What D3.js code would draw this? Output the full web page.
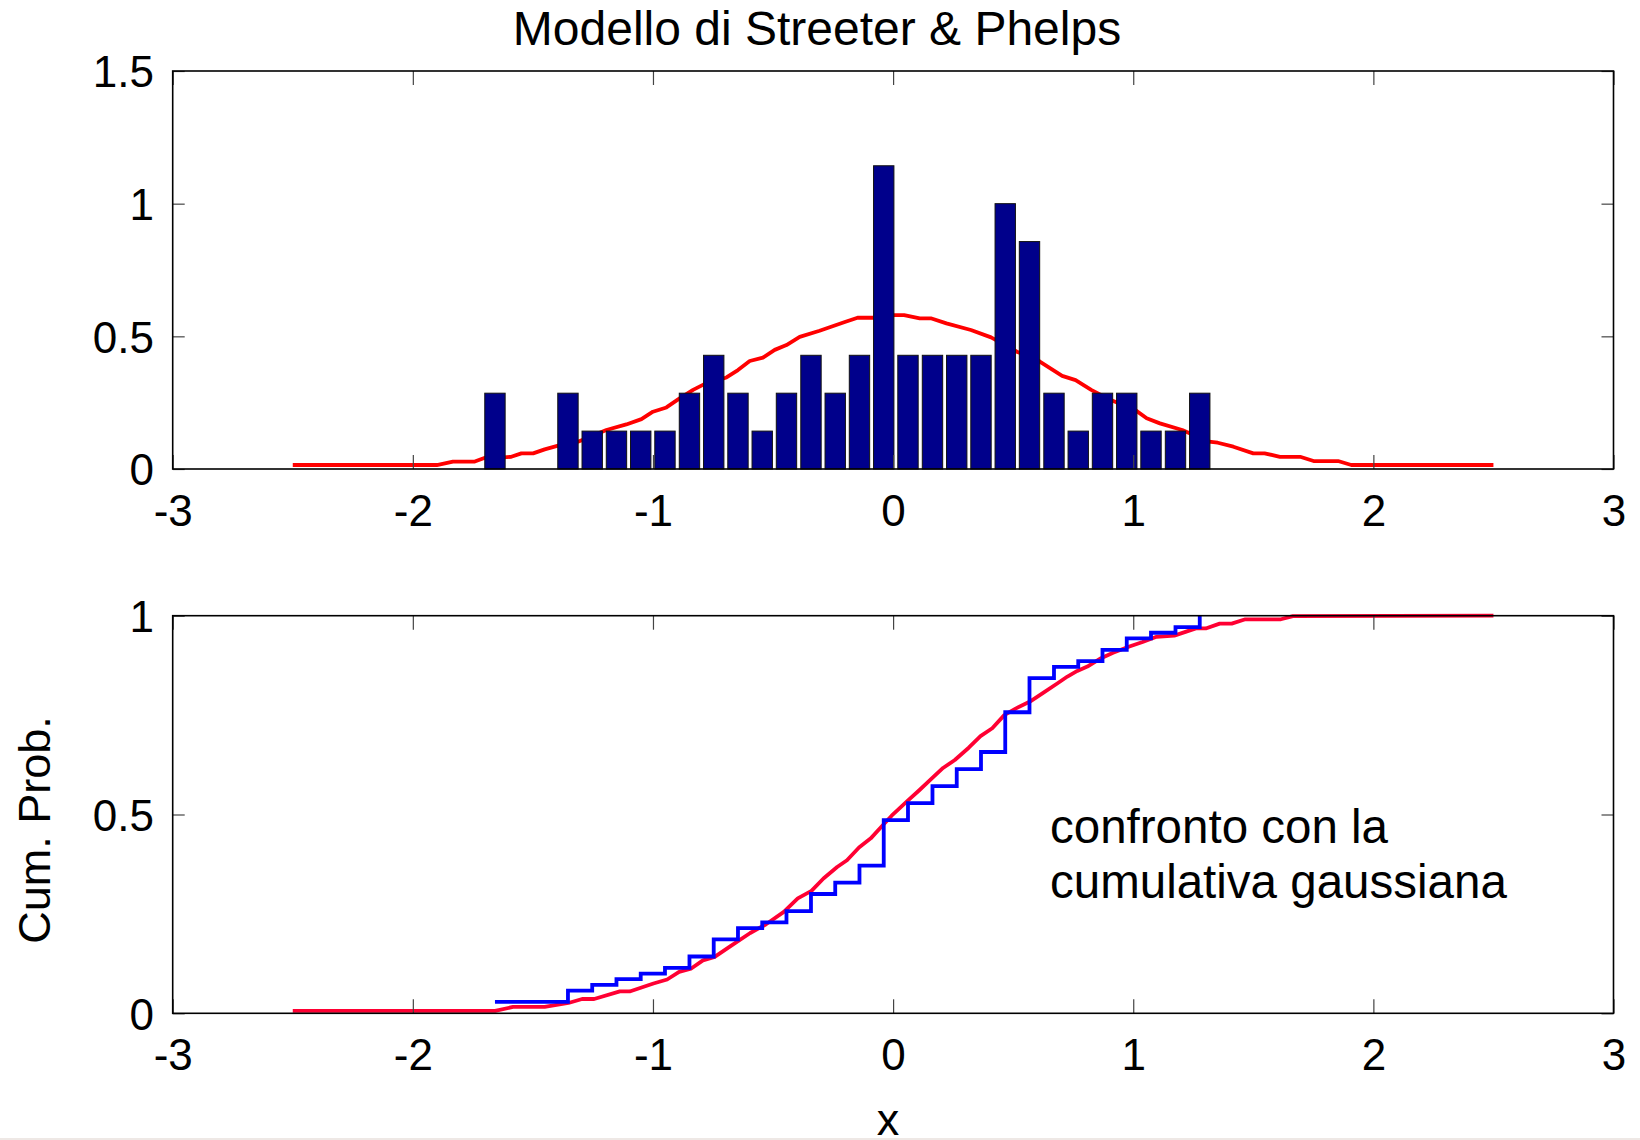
<!DOCTYPE html>
<html>
<head>
<meta charset="utf-8">
<script src="https://cdn.jsdelivr.net/npm/d3@7"></script>
<style>
  html, body { margin: 0; padding: 0; background: #fff; }
  svg { display: block; }
  text { font-family: "Liberation Sans", Arial, Helvetica, sans-serif; fill: #000; }
</style>
</head>
<body>
<svg id="chart" width="1640" height="1140"></svg>
<script>
// ---- data -------------------------------------------------------------
// histogram: 30 bins of the 70 simulated values
const binCenters = [-1.658, -1.557, -1.456, -1.354, -1.253, -1.152, -1.051, -0.950,
  -0.848, -0.747, -0.646, -0.545, -0.444, -0.342, -0.241, -0.140, -0.039, 0.062,
  0.164, 0.265, 0.366, 0.467, 0.568, 0.670, 0.771, 0.872, 0.973, 1.074, 1.176, 1.277];
const binCounts = [2, 0, 0, 2, 1, 1, 1, 1, 2, 3, 2, 1, 2, 3, 2, 3, 8, 3, 3, 3,
  3, 7, 6, 2, 1, 2, 2, 1, 1, 2];
const nominalBinWidth = 0.1;

// estimated density (red curve, upper panel)
const pdfX = [-2.5, -1.90, -1.833, -1.742, -1.694, -1.621, -1.59, -1.548, -1.499, -1.451,
  -1.391, -1.312, -1.194, -1.111, -1.048, -1.0, -0.944, -0.889, -0.833, -0.792,
  -0.694, -0.646, -0.597, -0.542, -0.493, -0.444, -0.389, -0.306, -0.204, -0.148,
  -0.083, 0.006, 0.046, 0.111, 0.157, 0.222, 0.324, 0.408, 0.47, 0.52,
  0.57, 0.611, 0.704, 0.760, 0.825, 0.899, 1.009, 1.056, 1.111, 1.204,
  1.315, 1.352, 1.417, 1.500, 1.547, 1.611, 1.695, 1.751, 1.853, 1.908, 2.5];
const pdfY = [0.015, 0.015, 0.028, 0.028, 0.044, 0.044, 0.046, 0.059, 0.059, 0.074,
  0.089, 0.103, 0.147, 0.168, 0.188, 0.216, 0.232, 0.266, 0.298, 0.317,
  0.345, 0.373, 0.407, 0.420, 0.449, 0.467, 0.498, 0.521, 0.553, 0.570,
  0.570, 0.580, 0.580, 0.568, 0.568, 0.549, 0.524, 0.496, 0.465, 0.440,
  0.425, 0.405, 0.351, 0.335, 0.298, 0.263, 0.222, 0.191, 0.172, 0.147,
  0.103, 0.099, 0.084, 0.059, 0.059, 0.046, 0.046, 0.030, 0.030, 0.015, 0.015];

// gaussian cumulative (red curve, lower panel)
const cdfX = [-2.5, -1.657, -1.583, -1.451, -1.352, -1.295, -1.245, -1.138, -1.097, -0.998,
  -0.941, -0.891, -0.842, -0.792, -0.743, -0.677, -0.595, -0.529, -0.455, -0.397,
  -0.340, -0.290, -0.233, -0.192, -0.142, -0.093, -0.043, -0.006, 0.060, 0.109,
  0.158, 0.208, 0.257, 0.315, 0.364, 0.413, 0.463, 0.512, 0.570, 0.628,
  0.685, 0.726, 0.767, 0.809, 0.866, 0.916, 0.981, 1.039, 1.097, 1.171,
  1.261, 1.302, 1.360, 1.410, 1.467, 1.615, 1.665, 2.5];
const cdfY = [0.006, 0.006, 0.016, 0.016, 0.026, 0.036, 0.036, 0.055, 0.055, 0.075,
  0.085, 0.104, 0.112, 0.133, 0.142, 0.169, 0.202, 0.224, 0.255, 0.289,
  0.308, 0.339, 0.368, 0.385, 0.417, 0.440, 0.473, 0.497, 0.534, 0.561,
  0.589, 0.617, 0.637, 0.668, 0.697, 0.717, 0.750, 0.767, 0.784, 0.807,
  0.830, 0.847, 0.861, 0.872, 0.893, 0.907, 0.922, 0.934, 0.947, 0.950,
  0.968, 0.968, 0.980, 0.980, 0.991, 0.991, 0.999, 1.0];

const xTicks = [-3, -2, -1, 0, 1, 2, 3];
const yTicksTop = [0, 0.5, 1, 1.5];
const yTicksBottom = [0, 0.5, 1];

const titleText = "Modello di Streeter & Phelps";
const yLabelBottom = "Cum. Prob.";
const xLabelBottom = "x";
const noteLines = ["confronto con la", "cumulativa gaussiana"];

// ---- layout -----------------------------------------------------------
const svg = d3.select("#chart");
const FONT = 44;
const left = 172.7, right = 1613.5;
const top1 = 71, bottom1 = 469;
const top2 = 615.7, bottom2 = 1013.3;

const x = d3.scaleLinear().domain([-3, 3]).range([left, right]);
const yTop = d3.scaleLinear().domain([0, 1.5]).range([bottom1, top1]);
const yBot = d3.scaleLinear().domain([0, 1]).range([bottom2, top2]);

const sampleSize = d3.sum(binCounts);
const density = binCounts.map(c => c / (sampleSize * nominalBinWidth));
let running = 0;
const ecdf = binCounts.map(c => (running += c) / sampleSize);

svg.append("rect").attr("x", 0).attr("y", 0).attr("width", 1640).attr("height", 1140).attr("fill", "#fff");

function drawAxes(y, yTicks, yTop0, yBottom0) {
  const g = svg.append("g");
  const fmt = d => String(d);
  // bottom x axis with labels
  const xb = g.append("g").attr("transform", `translate(0,${yBottom0})`)
    .call(d3.axisBottom(x).tickValues(xTicks).tickSize(-14).tickPadding(25.3).tickFormat(fmt));
  // top mirrored ticks
  const xt = g.append("g").attr("transform", `translate(0,${yTop0})`)
    .call(d3.axisTop(x).tickValues(xTicks).tickSize(-14).tickFormat(""));
  // left y axis with labels
  const yl = g.append("g").attr("transform", `translate(${left},0)`)
    .call(d3.axisLeft(y).tickValues(yTicks).tickSize(-12).tickPadding(18.7).tickFormat(fmt));
  // right mirrored ticks
  const yr = g.append("g").attr("transform", `translate(${right},0)`)
    .call(d3.axisRight(y).tickValues(yTicks).tickSize(-12).tickFormat(""));
  [xb, xt, yl, yr].forEach(a => {
    a.select(".domain").remove();
    a.selectAll(".tick line").attr("stroke", "#444").attr("stroke-width", 1.2);
    a.selectAll(".tick text").attr("font-size", FONT).attr("font-family", null).attr("fill", "#000");
  });
  yl.selectAll(".tick text").attr("dy", "0.358em");
  xb.selectAll(".tick text").attr("dy", "0.71em");
  // frame
  g.append("rect").attr("x", left).attr("y", yTop0)
    .attr("width", right - left).attr("height", yBottom0 - yTop0)
    .attr("fill", "none").attr("stroke", "#000").attr("stroke-width", 1.6);
  return g;
}

// ---- upper panel: histogram + density ----------------------------------
const upper = svg.append("g");
upper.append("path")
  .datum(pdfX.map((v, i) => [v, pdfY[i]]))
  .attr("fill", "none").attr("stroke", "#ff0000").attr("stroke-width", 3.8)
  .attr("stroke-linejoin", "round")
  .attr("d", d3.line().x(d => x(d[0])).y(d => yTop(d[1])));

const binStep = binCenters[1] - binCenters[0];
const barFrac = 0.84;
upper.selectAll("rect.bar")
  .data(binCenters.map((c, i) => ({ c, h: density[i] })))
  .join("rect")
  .attr("class", "bar")
  .attr("x", d => x(d.c - binStep * barFrac / 2))
  .attr("width", d => x(d.c + binStep * barFrac / 2) - x(d.c - binStep * barFrac / 2))
  .attr("y", d => yTop(d.h))
  .attr("height", d => yTop(0) - yTop(d.h))
  .attr("fill", "#00008b")
  .attr("stroke", d => d.h > 0 ? "#111" : "#888")
  .attr("stroke-width", 1);

drawAxes(yTop, yTicksTop, top1, bottom1);

// ---- lower panel: empirical vs gaussian cumulative ----------------------
const lower = svg.append("g");
lower.append("path")
  .datum(cdfX.map((v, i) => [v, cdfY[i]]))
  .attr("fill", "none").attr("stroke", "#ff0033").attr("stroke-width", 3.8)
  .attr("stroke-linejoin", "round")
  .attr("d", d3.line().x(d => x(d[0])).y(d => yBot(d[1])));

lower.append("path")
  .datum(binCenters.map((c, i) => [c, ecdf[i]]))
  .attr("fill", "none").attr("stroke", "#0000ff").attr("stroke-width", 3.8)
  .attr("stroke-linejoin", "miter")
  .attr("d", d3.line().curve(d3.curveStepAfter).x(d => x(d[0])).y(d => yBot(d[1])));

drawAxes(yBot, yTicksBottom, top2, bottom2);

// ---- text --------------------------------------------------------------
svg.append("text").attr("x", 817).attr("y", 45).attr("text-anchor", "middle")
  .attr("font-size", 48).text(titleText);

svg.append("text").attr("transform", "translate(50,830) rotate(-90)")
  .attr("text-anchor", "middle").attr("font-size", 45).text(yLabelBottom);

svg.append("text").attr("x", 888).attr("y", 1134.5).attr("text-anchor", "middle")
  .attr("font-size", 45).text(xLabelBottom);

noteLines.forEach((t, i) => {
  svg.append("text").attr("x", 1050).attr("y", 843 + i * 55)
    .attr("font-size", 47.5).text(t);
});

// thin light strip along the lower edge
svg.append("rect").attr("x", 0).attr("y", 1138).attr("width", 1640).attr("height", 2)
  .attr("fill", "#eee8e5");
</script>
</body>
</html>
